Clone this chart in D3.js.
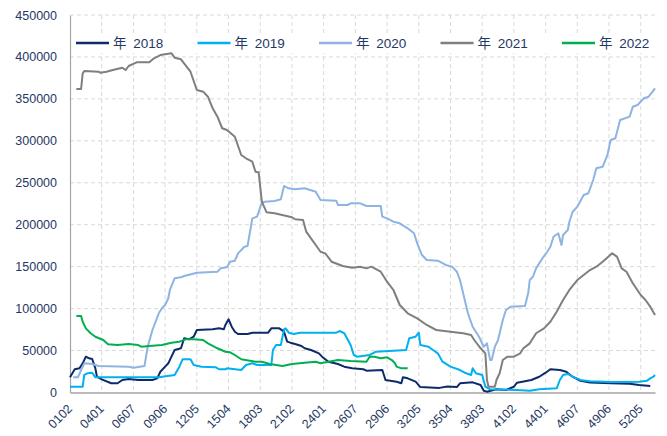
<!DOCTYPE html>
<html><head><meta charset="utf-8">
<script src="https://cdn.jsdelivr.net/npm/d3@7"></script>
<style>body{margin:0;background:#fff}</style>
</head><body><svg id="c" width="667" height="436"></svg>
<script>
// ---- data ----
const tickLabels = ["0102","0401","0607","0906","1205","1504","1803","2102","2401","2607","2906","3205","3504","3803","4102","4401","4607","4906","5205"];
const yTicks = [0,50000,100000,150000,200000,250000,300000,350000,400000,450000];
// category labels: week (2 digits) + day-of-week (2 digits), from 0102 to 5307
const categories = [];
for (let i = 0; i < 370; i++) { const n = i + 1; categories.push(String(Math.floor(n / 7) + 1).padStart(2, "0") + String(n % 7 + 1).padStart(2, "0")); }

const seriesNames = ["年 2018","年 2019","年 2020","年 2021","年 2022"];
const seriesColors = ["#0d2b6b","#00b0f0","#8db4e2","#7f7f7f","#00b050"];

// [category index, value]
const s2018 = [[0,18100],[3,27700],[6,28800],[8,34800],[10,42700],[12,40800],[14,39900],[16,28800],[17,18800],[20,15700],[26,11000],[30,11000],[33,14900],[37,16100],[43,14900],[52,14900],[55,16900],[57,24800],[60,30800],[62,34800],[64,42700],[66,50700],[70,52700],[72,64600],[75,63400],[78,66500],[80,74500],[90,75300],[94,76500],[97,75300],[98,80500],[100,87300],[102,78400],[104,72500],[106,69700],[112,69700],[115,71300],[125,71300],[127,76500],[132,76500],[135,72500],[137,60600],[139,59400],[142,57800],[146,55400],[148,52700],[152,50700],[157,46700],[159,42700],[163,36700],[169,34000],[173,30800],[178,28800],[185,27700],[187,26000],[197,26800],[199,14900],[206,12900],[209,11000],[210,18100],[213,16900],[218,12900],[221,6500],[233,5500],[238,7200],[244,6500],[246,11000],[254,12100],[259,8900],[261,2100],[263,1000],[269,3800],[275,3000],[280,6900],[282,11700],[291,14900],[296,18800],[300,23600],[303,27700],[309,26800],[313,24800],[317,18800],[322,14000],[328,12000],[341,11000],[353,10500],[359,8900],[366,7700]];
const s2019 = [[0,6900],[8,6900],[9,20900],[11,22900],[14,23600],[16,18100],[56,18100],[66,20900],[69,30800],[71,39600],[76,39600],[78,32800],[83,30800],[92,30000],[94,27700],[98,27700],[99,28800],[108,26800],[111,32800],[115,34800],[118,32800],[127,32800],[128,50700],[130,56600],[133,56600],[135,75300],[136,76500],[138,71300],[141,69700],[145,71300],[168,71300],[170,73300],[173,70600],[177,56600],[179,44700],[181,42700],[189,44700],[193,48600],[204,49800],[212,50700],[214,64600],[218,66500],[220,71300],[221,56600],[226,54600],[229,50700],[232,46700],[235,36700],[240,30800],[246,26800],[249,23600],[253,20900],[254,28800],[256,22900],[260,20900],[262,6900],[265,3800],[282,3000],[290,2100],[296,3800],[307,5000],[309,14900],[311,20900],[314,22100],[317,18800],[322,15000],[328,13500],[341,12500],[351,12500],[359,12900],[364,14100],[366,16900],[368,18800],[369,20900]];
const s2020 = [[2,18100],[5,18100],[7,26800],[9,34800],[14,34000],[18,31600],[37,30800],[40,29600],[47,31600],[49,54600],[52,74500],[56,94400],[58,100400],[60,104300],[62,112300],[63,122200],[66,136100],[70,137300],[72,138900],[77,141300],[80,142800],[93,144000],[95,148000],[99,149200],[101,155900],[104,157100],[106,165900],[110,173800],[112,174600],[115,207600],[118,209600],[121,226300],[123,227400],[129,228300],[133,230300],[135,246100],[138,243400],[142,242200],[148,243400],[155,239400],[158,229500],[168,228600],[169,223500],[175,223500],[177,225500],[183,225500],[187,222300],[196,222300],[197,209600],[200,207600],[204,203600],[208,201700],[213,195700],[217,189800],[219,177900],[222,163900],[225,157900],[232,157100],[237,152000],[241,150000],[244,144000],[246,134100],[249,110300],[251,94400],[254,78400],[258,66500],[261,54600],[263,58600],[265,38700],[266,38700],[268,54600],[270,62600],[273,86400],[275,98300],[278,102300],[287,103100],[289,118200],[290,134100],[292,138000],[294,148000],[298,160000],[301,167800],[303,173800],[305,185700],[308,189800],[310,175800],[311,187700],[314,193700],[315,203600],[317,215200],[320,221500],[324,235400],[327,237500],[330,253300],[332,267300],[336,269200],[339,283100],[341,301000],[344,303000],[347,324800],[353,328800],[355,340700],[358,342700],[362,350700],[365,352600],[369,362600]];
const s2021 = [[4,361800],[7,361800],[8,380500],[9,383200],[18,382400],[19,381200],[23,382400],[27,384400],[33,387200],[35,384400],[37,389200],[42,393600],[50,393600],[53,398400],[57,402300],[64,404300],[66,399100],[70,397200],[76,382400],[80,360600],[84,358600],[87,352600],[90,338800],[93,328800],[96,315000],[99,312900],[104,304900],[108,283100],[111,279200],[115,275100],[117,263200],[119,262500],[121,227500],[124,214800],[129,213600],[140,208900],[142,206500],[147,205600],[149,191700],[152,183800],[155,175800],[158,167800],[161,165900],[165,155900],[172,150800],[178,148800],[183,150000],[187,148000],[190,150000],[196,144000],[200,132100],[204,122200],[208,104300],[213,94400],[219,88400],[225,80500],[231,74500],[240,72500],[248,70600],[253,68500],[255,62600],[259,52700],[262,46700],[263,14900],[264,6900],[268,6900],[269,14900],[271,22900],[273,38700],[276,42700],[280,42700],[284,46700],[286,52700],[290,58600],[294,70600],[299,76500],[303,84400],[307,96300],[311,110300],[315,122200],[320,134100],[324,140100],[328,146000],[332,150000],[336,155900],[342,165900],[345,161900],[348,148000],[351,144000],[355,130200],[360,116200],[363,110300],[366,102300],[369,92400]];
const s2022 = [[4,91200],[7,91200],[8,84400],[10,76500],[13,70600],[16,66500],[21,62600],[24,57500],[30,56600],[37,57800],[43,56600],[45,54600],[50,55400],[58,56600],[64,59400],[69,60600],[73,63400],[78,63400],[84,62600],[87,58600],[93,52700],[98,48600],[101,47900],[104,44700],[108,39600],[117,36700],[121,36700],[126,34000],[134,31600],[140,34000],[148,35500],[155,36700],[158,34800],[163,36700],[169,38700],[177,37500],[187,36700],[189,42700],[192,42700],[196,40800],[200,42000],[203,38700],[205,34800],[206,30800],[209,28800],[213,28800]];
const seriesData = [s2018, s2019, s2020, s2021, s2022];

// ---- drawing ----
const L = 70, R = 655, T = 15, B = 392.5;
const textColor = "#1f3864";
const font = "'Liberation Sans', Arial, sans-serif";
const svg = d3.select("#c");
const x = d3.scalePoint().domain(categories).range([L, R]);
const y = d3.scaleLinear().domain([0, 450000]).range([B, T]);

// grid
svg.append("g").selectAll("line").data(yTicks.filter(v => v > 0)).join("line")
  .attr("x1", L).attr("x2", R).attr("y1", d => y(d)).attr("y2", d => y(d))
  .attr("stroke", "#d9d9d9").attr("stroke-dasharray", "4,3");
svg.append("g").selectAll("line").data(tickLabels.slice(1)).join("line")
  .attr("x1", d => x(d)).attr("x2", d => x(d)).attr("y1", T).attr("y2", B)
  .attr("stroke", "#d9d9d9").attr("stroke-dasharray", "4,3");

// legend background
svg.append("rect").attr("x", 72).attr("y", 33).attr("width", 582).attr("height", 20).attr("fill", "#fff");

// axes
const ya = svg.append("g").attr("transform", `translate(${L},0)`)
  .call(d3.axisLeft(y).tickValues(yTicks).tickSize(0).tickPadding(13).tickFormat(d3.format("d")));
ya.select(".domain").attr("stroke", "#a6a6a6").attr("stroke-width", 1.2);
ya.selectAll("text").attr("fill", textColor).style("font-family", font).style("font-size", "12.5px");

const xa = svg.append("g").attr("transform", `translate(0,${B})`)
  .call(d3.axisBottom(x).tickValues(tickLabels).tickSize(0).tickFormat(""));
xa.select(".domain").attr("stroke", "#a6a6a6").attr("stroke-width", 1.5);
const xl = svg.append("g").selectAll("g").data(tickLabels).join("g")
  .attr("transform", d => `translate(${x(d) + 3},${B + 17})`);
xl.append("text")
  .attr("transform", "rotate(-45)")
  .attr("text-anchor", "end")
  .attr("fill", textColor).style("font-family", font).style("font-size", "12.5px")
  .text(d => d);

// lines
const line = d3.line().x(d => x(categories[d[0]])).y(d => y(d[1]));
seriesData.forEach((s, i) => {
  svg.append("path").datum(s).attr("d", line).attr("fill", "none")
    .attr("stroke", seriesColors[i]).attr("stroke-width", 2).attr("stroke-linejoin", "round");
});

// legend
const lg = svg.append("g");
const legX = [76, 197.5, 319, 440.5, 562];
seriesNames.forEach((n, i) => {
  lg.append("line").attr("x1", legX[i]).attr("x2", legX[i] + 33).attr("y1", 43).attr("y2", 43)
    .attr("stroke", seriesColors[i]).attr("stroke-width", 2.5);
  lg.append("text").attr("x", legX[i] + 37).attr("y", 48).text(n)
    .attr("fill", textColor).style("font-family", "'Liberation Sans', 'Noto Sans CJK SC', sans-serif")
    .style("font-size", "13.5px").style("word-spacing", "3px");
});
</script></body></html>
